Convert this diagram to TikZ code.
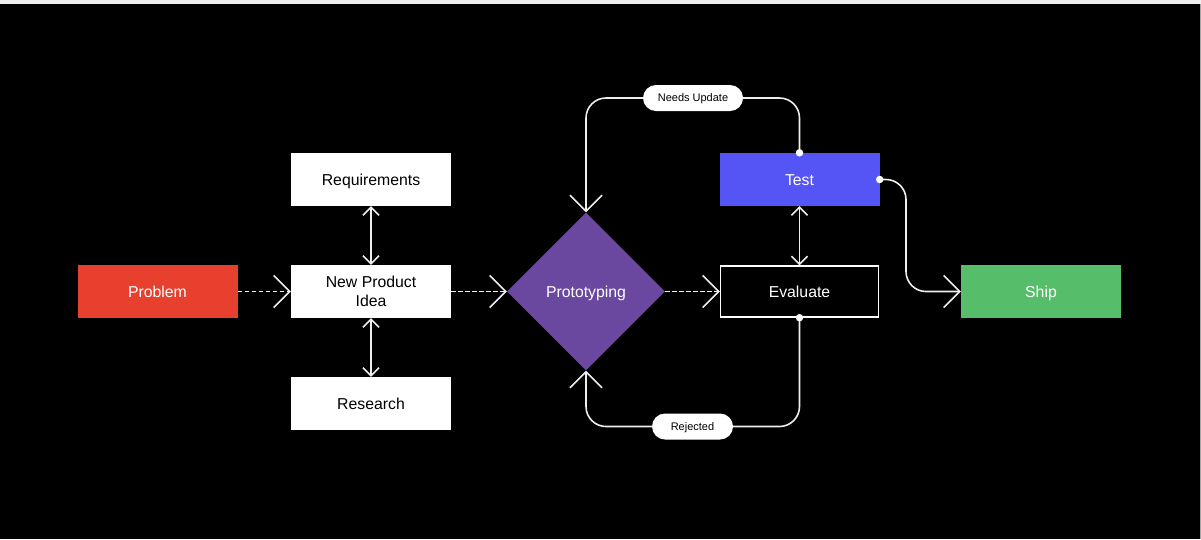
\documentclass[tikz,border=0pt]{standalone}
\usepackage{fontspec}
\setmainfont{Liberation Sans}
\usetikzlibrary{arrows.meta,shapes.geometric}
\definecolor{cred}{HTML}{E8402F}
\definecolor{cblue}{HTML}{5555F5}
\definecolor{cpurple}{HTML}{6B48A0}
\definecolor{cgreen}{HTML}{56BD6A}
\definecolor{cline}{HTML}{EEEEEE}
\definecolor{ctop}{HTML}{EFEFEF}
\tikzset{
  box/.style={rectangle, minimum width=160pt, minimum height=53pt, inner sep=0pt, align=center, font=\fontsize{15.8}{18.5}\selectfont},
  oneline/.style={text height=11.3pt, text depth=0pt},
  whitebox/.style={box, fill=white, text=black},
  pill/.style={rectangle, rounded corners=13pt, fill=white, text=black, minimum height=26pt, inner sep=0pt, text height=7.8pt, text depth=0pt, font=\fontsize{11}{12}\selectfont},
  conn/.style={draw=cline, line width=1.6pt},
  bigtip/.style={-{Straight Barb[length=16pt,width=32pt]}},
  smalltip/.style={{Straight Barb[length=8pt,width=16pt]}-{Straight Barb[length=8pt,width=16pt]}},
  dashedconn/.style={conn, dash pattern=on 4.5pt off 2.5pt},
  dotmark/.style={circle, fill=white, inner sep=0pt, minimum size=7.5pt}
}
\begin{document}
\begin{tikzpicture}[x=1pt,y=-1pt]
\fill[black] (0,0) rectangle (1201,539);
\useasboundingbox (0,0) rectangle (1201,539);
\fill[ctop] (0,0) rectangle (1201,4);
\draw[gray!70, line width=1pt] (1200.5,4) -- (1200.5,539);

\node[box, oneline, fill=cred, text=white] (problem) at (157.5,291.5) {Problem};
\node[whitebox, oneline] (req) at (371,179.5) {Requirements};
\node[whitebox] (idea) at (371,291.5) {New Product\\Idea};
\node[whitebox, oneline] (research) at (371,403.5) {Research};
\node[diamond, fill=cpurple, text=white, minimum width=158pt, minimum height=158pt, inner sep=0pt, oneline, font=\fontsize{15.8}{18.5}\selectfont] (proto) at (586,291.5) {Prototyping};
\node[box, oneline, fill=cblue, text=white] (test) at (799.5,179.5) {Test};
\node[box, oneline, fill=black, draw=white, line width=1.4pt, text=white, minimum width=158pt, minimum height=51pt] (eval) at (799.5,291.5) {Evaluate};
\node[box, oneline, fill=cgreen, text=white] (ship) at (1041,291.5) {Ship};

\node[pill, minimum width=100pt] (needs) at (693,98) {Needs Update};
\node[pill, minimum width=81pt] (rej) at (692.5,426.5) {Rejected};

% dashed flow
\draw[dashedconn, bigtip] (problem.east) -- (idea.west);
\draw[dashedconn, bigtip] (idea.east) -- (proto.west);
\draw[dashedconn, bigtip] (proto.east) -- (eval.west);

% double arrows
\draw[conn, smalltip] (req.south) -- (idea.north);
\draw[conn, smalltip] (idea.south) -- (research.north);
\draw[conn, smalltip] (test.south) -- (eval.north);

% loops
\draw[conn, rounded corners=20pt] (test.north) |- (needs.east);
\draw[conn, bigtip, rounded corners=20pt] (needs.west) -| (proto.north);
\draw[conn, rounded corners=20pt] (eval.south) |- (rej.east);
\draw[conn, bigtip, rounded corners=20pt] (rej.west) -| (proto.south);

% to ship
\coordinate (bend) at (906,235);
\draw[conn, rounded corners=20pt] (test.east) -| (bend);
\draw[conn, bigtip, rounded corners=20pt] (bend) |- (ship.west);

% dots
\node[dotmark] (d1) at (test.north) {};
\node[dotmark] (d2) at (eval.south) {};
\node[dotmark] (d3) at (test.east) {};
\end{tikzpicture}
\end{document}
